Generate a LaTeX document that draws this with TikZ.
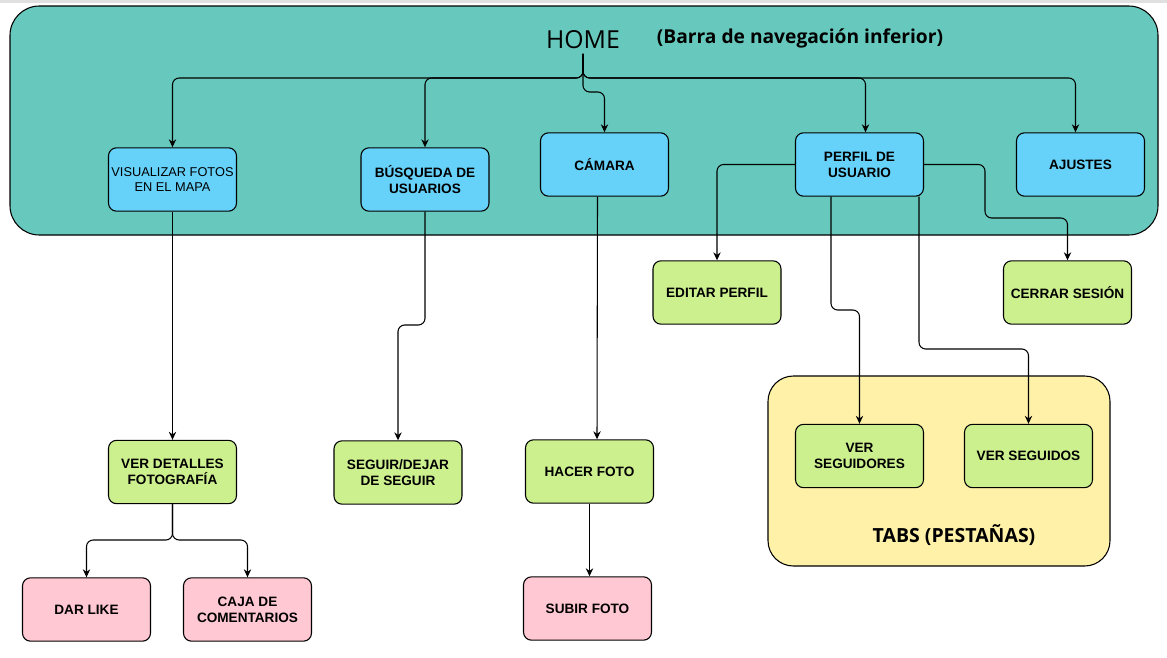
\documentclass[tikz,border=0pt]{standalone}
\usepackage{fontspec}
\setmainfont{Liberation Sans}
\newfontfamily\titlefont{Open Sans}
\usepackage{tikz}
\usetikzlibrary{arrows.meta,positioning,calc}
\definecolor{barteal}{RGB}{103,201,189}
\definecolor{navblue}{RGB}{102,210,250}
\definecolor{actgreen}{RGB}{205,240,143}
\definecolor{subpink}{RGB}{255,200,210}
\definecolor{tabyellow}{RGB}{255,241,168}
\tikzset{
    flow/.style={-{Stealth[length=6pt, width=5.5pt]}, line width=0.8pt, rounded corners=5pt},
    card/.style={draw, line width=0.8pt, rounded corners=6pt, minimum width=96pt, minimum height=47.5pt, align=center, font=\fontsize{10.2}{12}\selectfont\bfseries},
    navcard/.style={card, fill=navblue},
    actcard/.style={card, fill=actgreen},
    subcard/.style={card, fill=subpink},
    panel/.style={draw, line width=0.8pt}
}
\begin{document}
\begin{tikzpicture}[x=0.75pt, y=-0.75pt]
                    \useasboundingbox (0,0) rectangle (1167,657);
                    \draw[black!12, line width=2pt] (0,1.5) -- (1167,1.5);
                    % contenedores
                    \draw[panel, fill=barteal, rounded corners=22pt] (10,6) rectangle (1158,235);
                    \draw[panel, fill=tabyellow, rounded corners=19pt] (768,376) rectangle (1110,566);
                    \node[font=\titlefont\fontsize{18.6}{22}\selectfont] (home) at (583,40) {HOME};
                    \node[font=\titlefont\fontsize{14.4}{17}\selectfont\bfseries] (barra) at (800,38) {(Barra de navegación inferior)};
                    \node[font=\titlefont\fontsize{14.6}{17}\selectfont\bfseries] (tabs) at (954,535) {TABS (PESTAÑAS)};
                    % barra de navegacion
                    \node[navcard, inner xsep=0.5pt, font=\fontsize{9.6}{11.5}\selectfont] (vis) at (172.5,179.5) {VISUALIZAR FOTOS\\EN EL MAPA};
                    \node[navcard] (bus) at (425,179.5) {BÚSQUEDA DE\\USUARIOS};
                    \node[navcard] (cam) at (604.5,164.5) {CÁMARA};
                    \node[navcard] (perf) at (859.5,164.5) {PERFIL DE\\USUARIO};
                    \node[navcard] (adj) at (1080.5,164.5) {AJUSTES};
                    % acciones
                    \node[actcard] (edit) at (717,292.5) {EDITAR PERFIL};
                    \node[actcard] (cer) at (1067.5,292.5) {CERRAR SESIÓN};
                    \node[actcard] (det) at (172.5,472) {VER DETALLES\\FOTOGRAFÍA};
                    \node[actcard] (seg) at (398,472.5) {SEGUIR/DEJAR\\DE SEGUIR};
                    \node[actcard] (hac) at (589.5,471.5) {HACER FOTO};
                    \node[actcard] (vsg) at (859.5,456) {VER\\SEGUIDORES};
                    \node[actcard] (vsd) at (1028.5,456) {VER SEGUIDOS};
                    \node[subcard] (dar) at (86.5,609.5) {DAR LIKE};
                    \node[subcard] (caj) at (247.5,609.5) {CAJA DE\\COMENTARIOS};
                    \node[subcard] (sub) at (587.5,608.5) {SUBIR FOTO};

                    \coordinate (hub) at (583,78);
                    \draw[flow] (home.south) -- (hub) -| (vis.north);
                    \draw[flow] (home.south) -- (hub) -| (bus.north);
                    \draw[flow] (home.south) -- (583,92) -| (cam.north);
                    \draw[flow] (home.south) -- (hub) -| ($(perf.north)+(6,0)$);
                    \draw[flow] (home.south) -- (hub) -| ($(adj.north)+(-5,0)$);
                    \draw[flow] (vis.south) -- (det.north);
                    \draw[flow] (bus.south) -- (425,325) -| (seg.north);
                    \draw[flow] ($(cam.south)+(-7,0)$) -- ($(hac.north)+(7.5,0)$);
                    \draw[flow] (hac.south) -- (hac.south |- sub.north);
                    \draw[flow] (perf.west) -| (edit.north);
                    \draw[flow] (perf.east) -| (985,218) -| (cer.north);
                    \draw[flow] ($(perf.south)+(-28.5,0)$) -- (831,310) -| (vsg.north);
                    \draw[flow] ($(perf.south)+(59.5,0)$) -- (919,349) -| (vsd.north);
                    \draw[flow] (det.south) -- (172.5,540) -| (dar.north);
                    \draw[flow] (det.south) -- (172.5,540) -| (caj.north);
                \end{tikzpicture}
\end{document}
